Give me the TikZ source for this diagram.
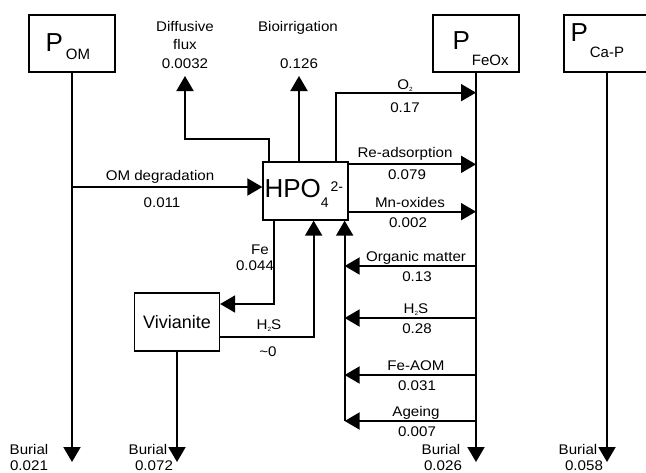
\documentclass[tikz,border=0pt]{standalone}
\usepackage{fontspec}
\setmainfont{Liberation Sans}
\newfontfamily\lblfont{Liberation Sans}[FakeStretch=1.08]
\usetikzlibrary{arrows.meta,positioning,calc}
\newcommand\chemsub[1]{\raisebox{-2.5pt}{\fontsize{6}{6}\selectfont #1}}

\begin{document}
\begin{tikzpicture}[x=1pt, y=-1pt, >={Triangle[length=15pt,width=17pt]},
    box/.style={draw, line width=1.3pt, minimum width=86pt, minimum height=57pt, inner sep=0pt},
    flow/.style={->, line width=2pt},
    lbl/.style={font=\lblfont\fontsize{14}{17}\selectfont, inner sep=0pt, anchor=base},
    big/.style={font=\fontsize{26}{26}\selectfont, inner sep=0pt, anchor=base west}]
    \useasboundingbox (0,0) rectangle (646,472);

    % pools
    \node[box] (pom) at (72,43.5) {};
    \node[box] (feox) at (476,43.5) {};
    \node[box] (cap) at (607,43.5) {};
    \node[box, minimum width=85pt, minimum height=58pt] (hpo) at (305.5,191) {};
    \node[box, minimum width=85pt, minimum height=58pt, font=\fontsize{18}{18}\selectfont] (viv) at (177,322) {Vivianite};

    \node[big] (pomtxt) at ([shift={(17,37.5)}]pom.north west) {P\kern3pt\raisebox{-8pt}{\fontsize{15}{15}\selectfont OM}};
    \node[big] (feoxtxt) at ([shift={(20,35.5)}]feox.north west) {P\kern2pt\raisebox{-16pt}{\fontsize{15}{15}\selectfont FeOx}};
    \node[big] (captxt) at ([shift={(7,27.5)}]cap.north west) {P\kern2pt\raisebox{-16pt}{\fontsize{15}{15}\selectfont Ca-P}};
    \node[big] (hpotxt) at ([shift={(2,36)}]hpo.north west) {HPO\raisebox{-10pt}{\fontsize{14}{14}\selectfont 4}\kern2pt\raisebox{6pt}{\fontsize{14}{14}\selectfont 2-}};

    \coordinate (bot) at (0,462);
    \coordinate (difftip) at (185,76);
    \coordinate (biotip) at (299,76);
    \coordinate (omin) at ([yshift=4pt]hpo.west);
    \coordinate (rads) at ([yshift=-3pt]hpo.north east);
    \coordinate (mnox) at ([yshift=9pt]hpo.south east);
    \coordinate (coll) at ([xshift=-4pt]hpo.south east);

    % burial
    \draw[flow] (pom.south) -- (pom.south |- bot);
    \draw[flow] (viv.south) -- (viv.south |- bot);
    \draw[flow] (feox.south) -- (feox.south |- bot);
    \draw[flow] (cap.south) -- (cap.south |- bot);

    % fluxes round HPO4
    \draw[flow] (pom.south |- omin) -- (omin);
    \draw[flow] ([xshift=7pt]hpo.north west) -- ++(0,-22) -| (difftip);
    \draw[flow] (hpo.north -| biotip) -- (biotip);
    \draw[flow] ([xshift=-13pt]hpo.north east) |- ([yshift=-20pt]feox.south);
    \draw[flow] (rads) -- (rads -| feox.south);
    \draw[flow] (mnox) -- (mnox -| feox.south);
    \draw[flow] ([xshift=12pt]hpo.south west) |- ([yshift=18pt]viv.east);
    \draw[flow] ([yshift=-15pt]viv.east) -| ([xshift=-35pt]hpo.south east);

    % release from FeOx
    \foreach \yy/\nm/\txt/\val in {266/orgm/Organic matter/0.13, 318/hs/H\chemsub{2}S/0.28, 375/feaom/Fe-AOM/0.031, 421/age/Ageing/0.007} {
        \draw[flow] (feox.south |- 0,\yy) -- (coll |- 0,\yy);
        \node[lbl] (\nm-top) at (416,\yy-5) {\txt};
        \node[lbl] (\nm-val) at (417,\yy+15) {\val};
    }
    \draw[flow] (coll |- 0,421) -- (coll);

    % labels
    \node[lbl] (diff1) at (185,31) {Diffusive};
    \node[lbl] (diff2) at (185,49) {flux};
    \node[lbl] (diff3) at (185,68) {0.0032};
    \node[lbl] (bio1) at (298,31) {Bioirrigation};
    \node[lbl] (bio2) at (299,68) {0.126};
    \node[lbl] (omd1) at (160,180) {OM degradation};
    \node[lbl] (omd2) at (162,207) {0.011};
    \node[lbl] (oxy1) at (405,89) {O\chemsub{2}};
    \node[lbl] (oxy2) at (405,112) {0.17};
    \node[lbl] (rad1) at (405,157) {Re-adsorption};
    \node[lbl] (rad2) at (407,179) {0.079};
    \node[lbl] (mno1) at (410,207) {Mn-oxides};
    \node[lbl] (mno2) at (408,227) {0.002};
    \node[lbl] (fe1) at (260,254) {Fe};
    \node[lbl] (fe2) at (255,270) {0.044};
    \node[lbl] (vhs1) at (269,329) {H\chemsub{2}S};
    \node[lbl] (vhs2) at (268,356) {\textasciitilde 0};
    \node[lbl] (bur1) at (29,454) {Burial};
    \node[lbl] (bur1v) at (29,470) {0.021};
    \node[lbl] (bur2) at (148,454) {Burial};
    \node[lbl] (bur2v) at (154,470) {0.072};
    \node[lbl] (bur3) at (441,454) {Burial};
    \node[lbl] (bur3v) at (443,470) {0.026};
    \node[lbl] (bur4) at (578,454) {Burial};
    \node[lbl] (bur4v) at (584,470) {0.058};
\end{tikzpicture}
\end{document}
